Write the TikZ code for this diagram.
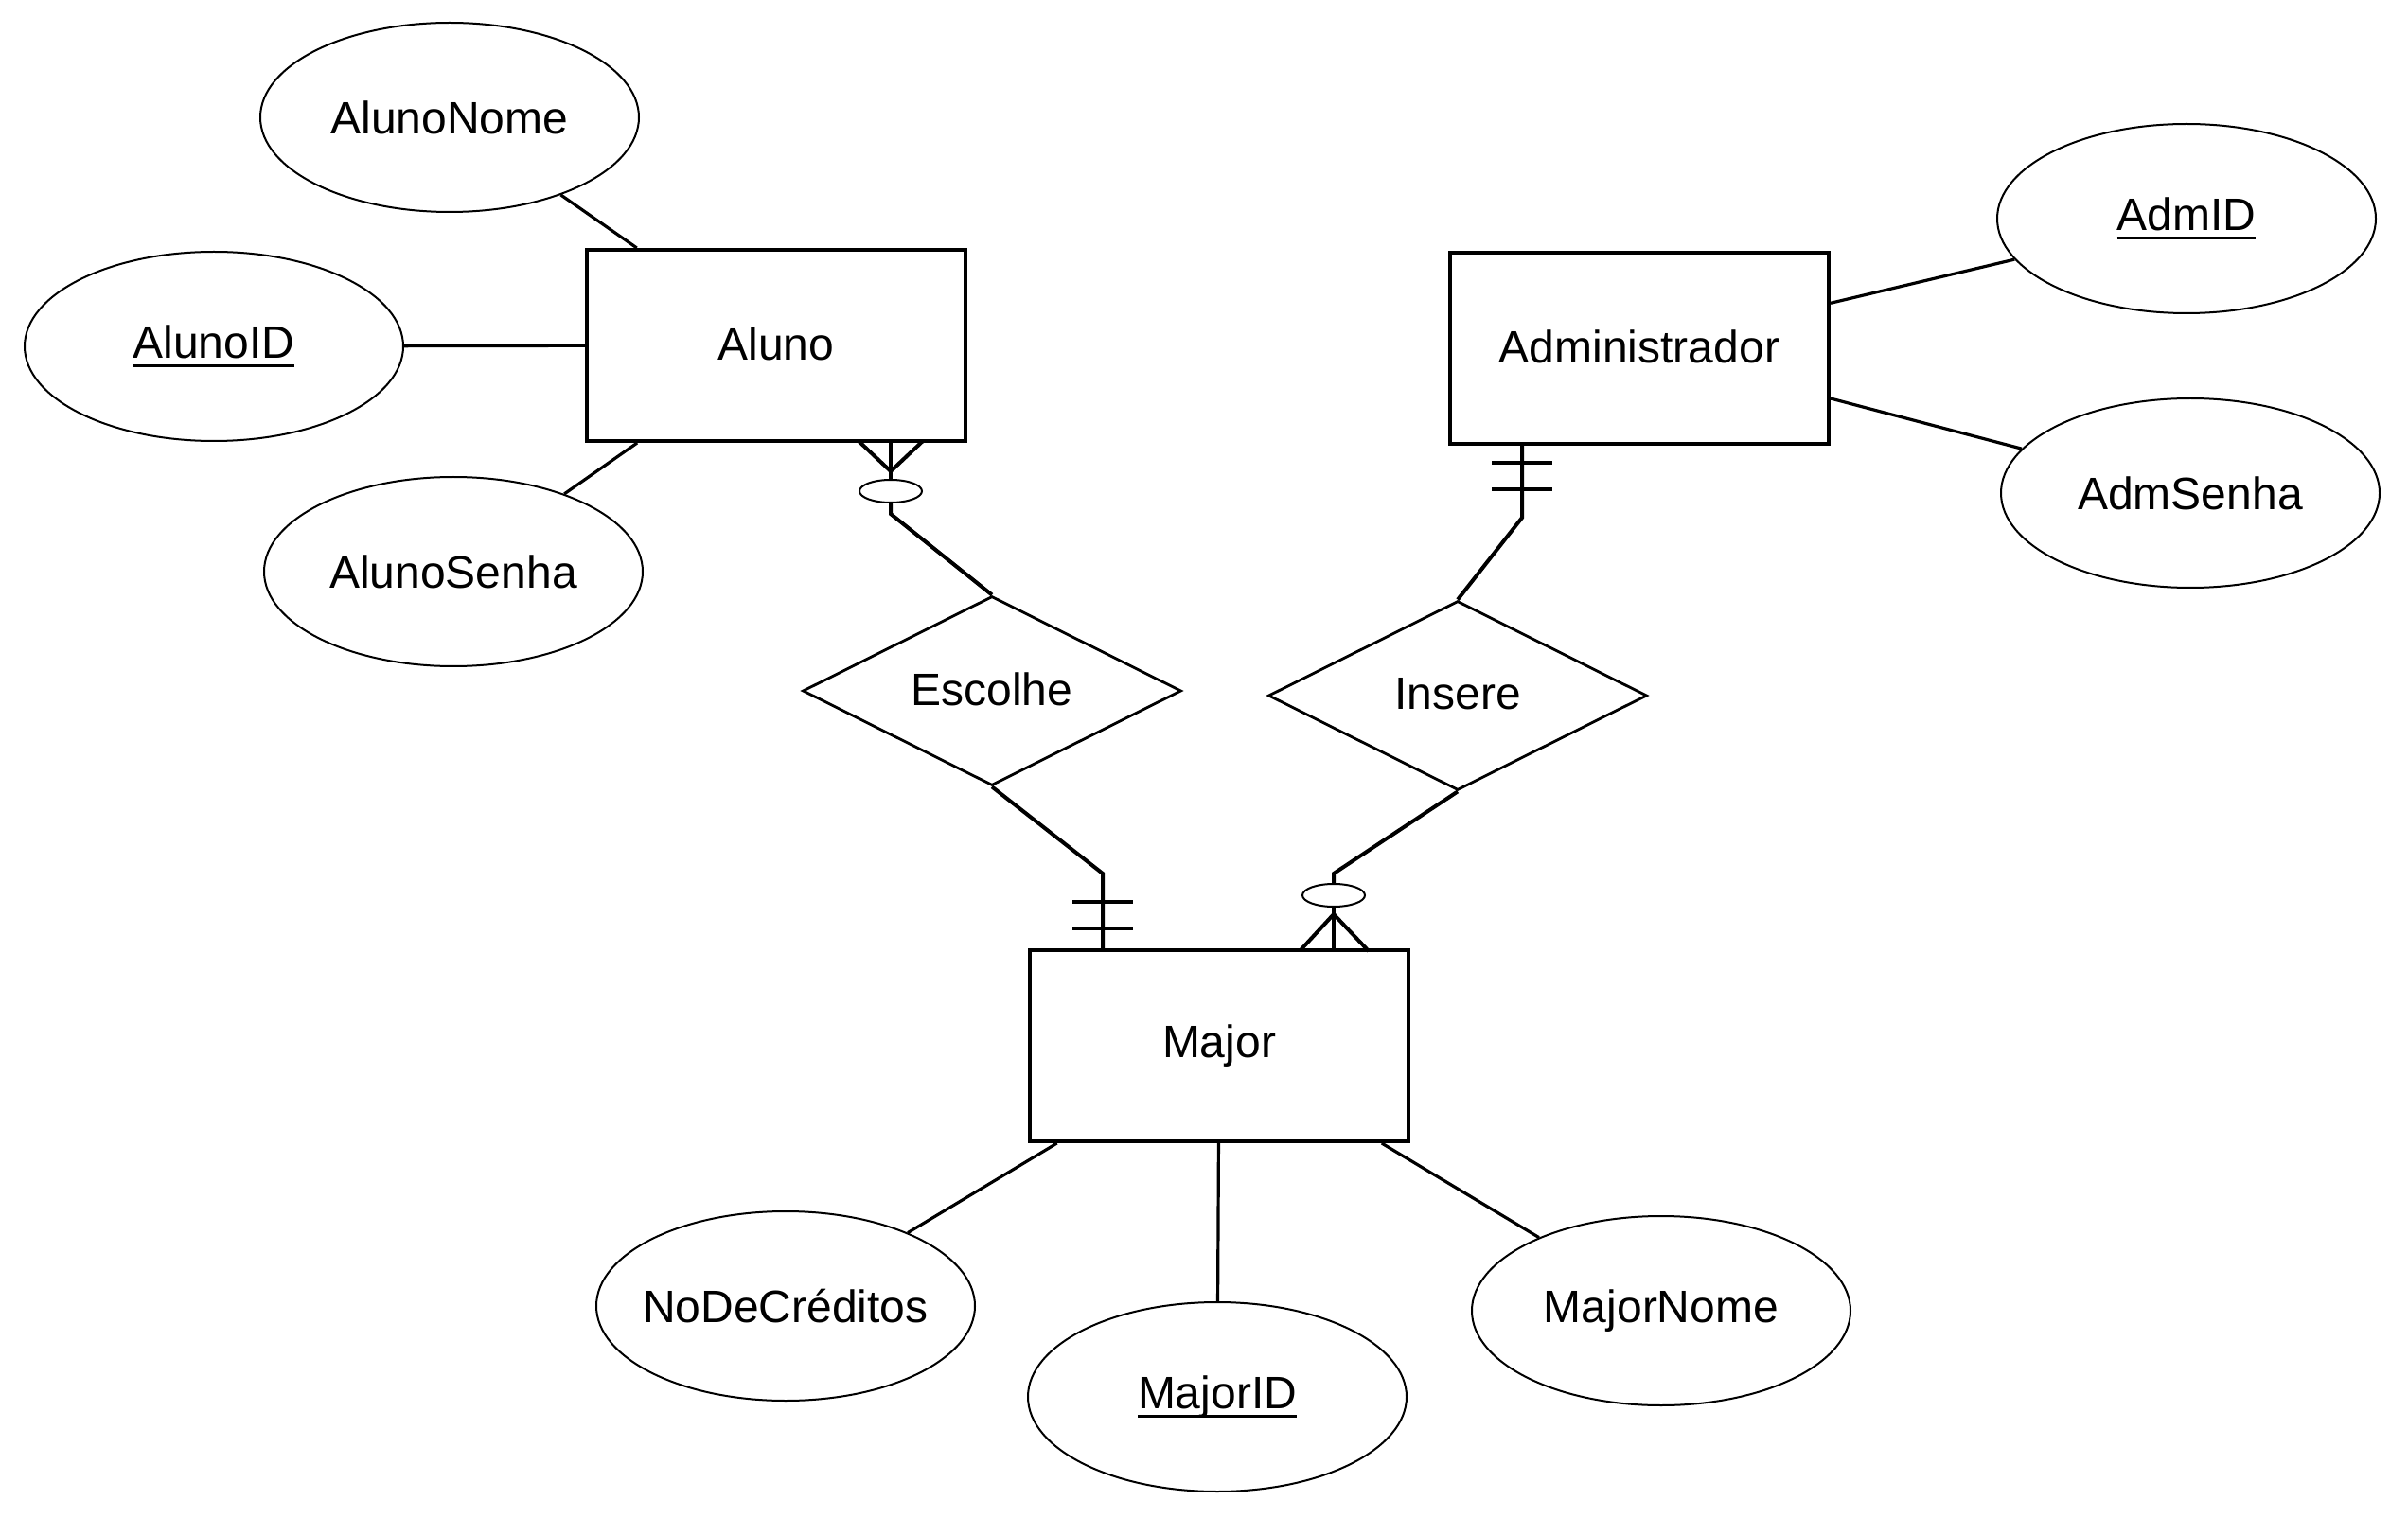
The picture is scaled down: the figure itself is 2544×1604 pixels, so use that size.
\documentclass[tikz,border=0pt]{standalone}
\usepackage{fontspec}
\setmainfont{Liberation Sans}
\usetikzlibrary{shapes.geometric}
\newcommand{\keyattr}[1]{\setbox0\hbox{#1}\rlap{\rule[-5pt]{\wd0}{1.7pt}}\box0}
\newcommand{\nowidth}[1]{\makebox[0pt]{#1}}
\newcommand{\up}[1]{\raisebox{2pt}{#1}}
\begin{document}
\begin{tikzpicture}[x=0.5pt,y=-0.5pt,
  every node/.style={font=\fontsize{24}{28}\selectfont, inner sep=0pt},
  entity/.style={draw, line width=2pt, minimum width=200pt, minimum height=101pt},
  attr/.style={draw, ellipse, line width=1pt, minimum width=200pt, minimum height=100pt},
  rel/.style={draw, diamond, line width=1.4pt, minimum width=200pt, minimum height=100pt, aspect=2},
  optmark/.style={draw, ellipse, line width=1pt, minimum width=33pt, minimum height=12pt},
  link/.style={line width=1.6pt},
  rlink/.style={line width=2pt}]
\useasboundingbox (0,0) rectangle (2544,1604);

% entities
\node[entity] (Aluno) at (820,365) {\up{Aluno}};
\node[entity] (Adm) at (1732,368) {\up{Administrador}};
\node[entity] (Major) at (1288,1105) {\up{Major}};

% attributes
\node[attr] (AlunoNome) at (475,124) {\nowidth{AlunoNome}};
\node[attr] (AlunoID) at (226,366) {\nowidth{\keyattr{AlunoID}}};
\node[attr] (AlunoSenha) at (479,604) {\nowidth{AlunoSenha}};
\node[attr] (AdmID) at (2310,231) {\nowidth{\keyattr{AdmID}}};
\node[attr] (AdmSenha) at (2314,521) {\nowidth{AdmSenha}};
\node[attr] (NoDeCreditos) at (830,1380) {\nowidth{NoDeCréditos}};
\node[attr] (MajorID) at (1286,1476) {\nowidth{\keyattr{MajorID}}};
\node[attr] (MajorNome) at (1755,1385) {\nowidth{MajorNome}};

% relationships
\node[rel] (Escolhe) at (1048,730) {\up{Escolhe}};
\node[rel] (Insere) at (1540,735) {\up{Insere}};

% attribute links
\draw[link] (AlunoNome) -- (Aluno);
\draw[link] (AlunoID) -- (Aluno);
\draw[link] (AlunoSenha) -- (Aluno);
\draw[link] (AdmID) -- (Adm);
\draw[link] (AdmSenha) -- (Adm);
\draw[link] (NoDeCreditos) -- (Major);
\draw[link] (MajorID) -- (Major);
\draw[link] (MajorNome) -- (Major);

% Aluno -- Escolhe (zero or many at Aluno)
\node[optmark] (o1) at (941,519) {};
\coordinate (b1) at (941,543);
\coordinate (cf1) at (941,498);
\coordinate (f1l) at (907,466);
\coordinate (f1r) at (975,466);
\draw[rlink] (Escolhe.north) -- (b1) -- (o1.south);
\draw[rlink] (o1.north) -- (cf1 |- Aluno.south);
\draw[rlink] (f1l) -- (cf1) -- (f1r);

% Escolhe -- Major (one and only one at Major)
\coordinate (b2) at (1165,923);
\coordinate (t2a) at (1165,953);
\coordinate (t2b) at (1165,981);
\draw[rlink] (Escolhe.south) -- (b2) -- (b2 |- Major.north);
\draw[rlink] ([xshift=-16pt]t2a) -- ([xshift=16pt]t2a);
\draw[rlink] ([xshift=-16pt]t2b) -- ([xshift=16pt]t2b);

% Administrador -- Insere (one and only one at Administrador)
\coordinate (b4) at (1608,547);
\coordinate (t4a) at (1608,489);
\coordinate (t4b) at (1608,517);
\draw[rlink] (Insere.north) -- (b4) -- (b4 |- Adm.south);
\draw[rlink] ([xshift=-16pt]t4a) -- ([xshift=16pt]t4a);
\draw[rlink] ([xshift=-16pt]t4b) -- ([xshift=16pt]t4b);

% Insere -- Major (zero or many at Major)
\node[optmark] (o2) at (1409,946) {};
\coordinate (b3) at (1409,923);
\coordinate (cf2) at (1409,966);
\coordinate (f2l) at (1373,1005);
\coordinate (f2r) at (1446,1005);
\draw[rlink] (Insere.south) -- (b3) -- (o2.north);
\draw[rlink] (o2.south) -- (cf2 |- Major.north);
\draw[rlink] (f2l) -- (cf2) -- (f2r);
\end{tikzpicture}
\end{document}
